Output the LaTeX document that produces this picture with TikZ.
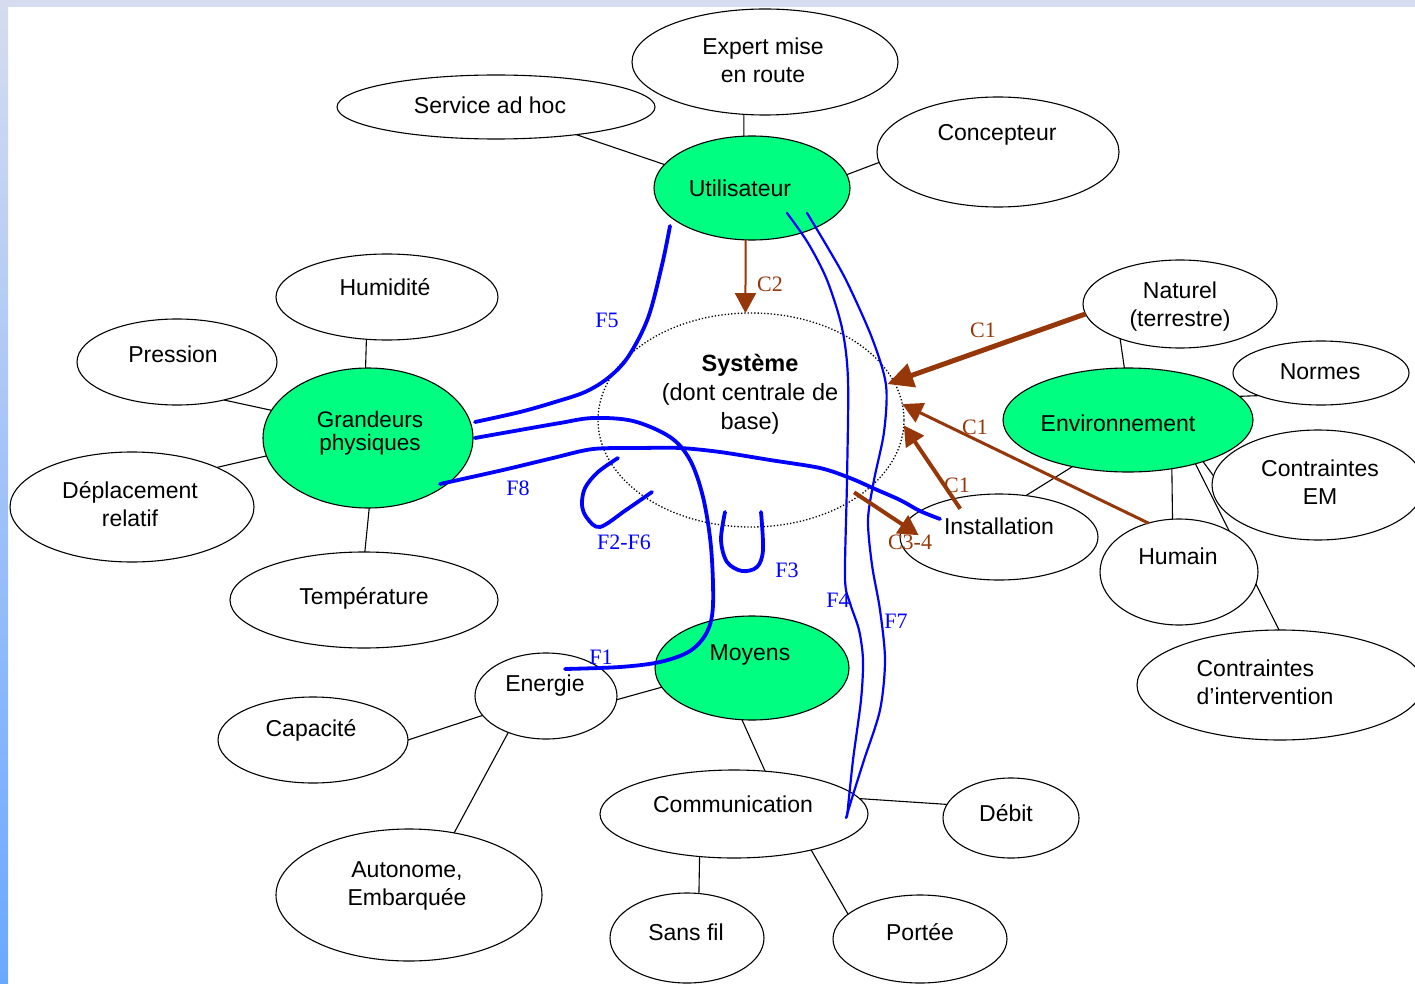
\documentclass[tikz,border=0pt]{standalone}
\usepackage{fontspec}
\setmainfont{Liberation Sans}
\newfontfamily\lblfont{Liberation Serif}
\usetikzlibrary{arrows.meta,calc,shapes.geometric}
\definecolor{keygreen}{RGB}{0,255,128}
\definecolor{cbrown}{RGB}{150,55,10}
\definecolor{fblue}{RGB}{0,0,255}
\definecolor{edgetop}{RGB}{214,220,240}
\definecolor{edgemid}{RGB}{180,205,242}
\definecolor{edgebot}{RGB}{106,168,255}
\pgfdeclarelayer{back}
\pgfdeclarelayer{lines}
\pgfdeclarelayer{front}
\pgfsetlayers{back,lines,main,front}
\begin{document}
\begin{tikzpicture}[x=1pt,y=-1pt,
  ell/.style={ellipse, draw=black, line width=1.1pt, fill=white, inner sep=0pt, outer sep=0pt},
  keynode/.style={ell, fill=keygreen},
  sysnode/.style={ellipse, draw=black, dotted, line width=1.3pt, inner sep=0pt, outer sep=0pt},
  txt/.style={align=center, inner sep=0pt, font=\fontsize{23}{28}\selectfont},
  conn/.style={draw=black, line width=1.1pt},
  carrow/.style={draw=cbrown, line width=#1, -{Triangle[length=20pt,width=21pt]}},
  fline/.style={draw=fblue, line width=3.8pt, line cap=round, line join=round},
  fthin/.style={draw=fblue, line width=2.2pt, line cap=round, line join=round},
  flabel/.style={text=fblue, inner sep=0pt, font=\lblfont\fontsize{22}{24}\selectfont},
  clabel/.style={text=cbrown, inner sep=0pt, font=\lblfont\fontsize{22}{24}\selectfont}
]
\useasboundingbox (0,0) rectangle (1415,984);
\begin{pgfonlayer}{back}
  \fill[white] (0,0) rectangle (1415,984);
  \fill[edgetop] (0,0) rectangle (1415,7);
  \shade[top color=edgetop, middle color=edgemid, bottom color=edgebot] (0,0) rectangle (8,984);
\end{pgfonlayer}

% ---- ellipses ----
\node[ell, minimum width=266pt, minimum height=106pt] (expert) at (765,62) {};
\node[ell, minimum width=318pt, minimum height=64pt] (svc) at (496,107) {};
\node[keynode, minimum width=196pt, minimum height=104pt] (util) at (752,188) {};
\node[ell, minimum width=242pt, minimum height=110pt] (conc) at (998,152) {};
\node[ell, minimum width=222pt, minimum height=86pt] (humid) at (387,297) {};
\node[ell, minimum width=200pt, minimum height=86pt] (press) at (177,362) {};
\node[keynode, minimum width=210pt, minimum height=140pt] (gp) at (368,438) {};
\node[ell, minimum width=244pt, minimum height=110pt] (depl) at (132,507) {};
\node[ell, minimum width=268pt, minimum height=96pt] (temp) at (364,600) {};
\node[sysnode, minimum width=306pt, minimum height=214pt] (sys) at (751,420) {};
\node[ell, minimum width=194pt, minimum height=88pt] (nat) at (1180,304) {};
\node[ell, minimum width=176pt, minimum height=64pt] (normes) at (1321,373) {};
\node[ell, minimum width=212pt, minimum height=110pt] (cem) at (1318,485) {};
\node[keynode, minimum width=250pt, minimum height=104pt] (env) at (1128,420) {};
\node[ell, minimum width=198pt, minimum height=86pt] (inst) at (999,537) {};
\node[ell, minimum width=286pt, minimum height=110pt] (ci) at (1280,685) {};
\node[ell, minimum width=158pt, minimum height=106pt] (hum) at (1179,572) {};
\node[keynode, minimum width=194pt, minimum height=104pt] (moy) at (752,668) {};
\node[ell, minimum width=142pt, minimum height=86pt] (ener) at (546,696) {};
\node[ell, minimum width=190pt, minimum height=86pt] (capa) at (313,740) {};
\node[ell, minimum width=268pt, minimum height=88pt] (comm) at (734,814) {};
\node[ell, minimum width=136pt, minimum height=80pt] (debit) at (1011,818) {};
\node[ell, minimum width=266pt, minimum height=132pt] (auto) at (409,895) {};
\node[ell, minimum width=154pt, minimum height=90pt] (sansfil) at (687,938) {};
\node[ell, minimum width=174pt, minimum height=88pt] (portee) at (920,939) {};

% ---- texts ----
\node[txt] at (763,60) {Expert mise\\en route};
\node[txt] at (490,105) {Service ad hoc};
\node[txt] at (740,188) {Utilisateur};
\node[txt] at (997,135) {Concepteur};
\node[txt] at (385,287) {Humidit\'e};
\node[txt] at (173,354) {Pression};
\node[txt, font=\fontsize{22.5}{22.5}\selectfont] at (370,433) {Grandeurs\\physiques};
\node[txt] at (130,504) {D\'eplacement\\relatif};
\node[txt] at (364,598) {Temp\'erature};
\node[txt, font=\fontsize{23.5}{29}\selectfont] at (750,394) {\textbf{Syst\`eme}\\(dont centrale de\\base)};
\node[txt] at (1180,307) {Naturel\\(terrestre)};
\node[txt] at (1320,372) {Normes};
\node[txt] at (1118,423) {Environnement};
\node[txt] at (1320,482) {Contraintes\\EM};
\node[txt] at (999,526) {Installation};
\node[txt] at (1178,556) {Humain};
\node[txt, align=left] at (1265,682) {Contraintes\\d’intervention};
\node[txt] at (750,655) {Moyens};
\node[txt] at (545,686) {Energie};
\node[txt] at (311,730) {Capacit\'e};
\node[txt] at (733,804) {Communication};
\node[txt] at (1006,813) {D\'ebit};
\node[txt] at (407,886) {Autonome,\\Embarqu\'ee};
\node[txt] at (686,932) {Sans fil};
\node[txt] at (920,932) {Port\'ee};

% ---- black connectors ----
\begin{pgfonlayer}{lines}
  \draw[conn] (expert.-112) -- (util.99);
  \draw[conn] (svc.-19) -- (util.165);
  \draw[conn] (util.8) -- (conc.185);
  \draw[conn] (humid.-116) -- (gp.92);
  \draw[conn] (press.-39) -- (gp.164);
  \draw[conn] (depl.25) -- (gp.190);
  \draw[conn] (temp.89) -- (gp.-89);
  \draw[conn] (nat.-150) -- (env.94);
  \draw[conn] (env.12) -- (normes.200);
  \draw[conn] (env.-29) -- (cem.175);
  \draw[conn] (env.-48) -- (hum.97);
  \draw[conn] (env.-33) -- (ci.91);
  \draw[conn] (env.220) -- (inst.57);
  \draw[conn] (ener.-3) -- (moy.192);
  \draw[conn] (capa.0) -- (ener.197);
  \draw[conn] (auto.54) -- (ener.224);
  \draw[conn] (moy.-101) -- (comm.54);
  \draw[conn] (comm.7) -- (debit.168);
  \draw[conn] (comm.-129) -- (sansfil.75);
  \draw[conn] (comm.-25) -- (portee.161);
\end{pgfonlayer}

% ---- blue flows and brown constraints ----
\begin{pgfonlayer}{front}
  % F5
  \draw[fline] plot[smooth, tension=0.55] coordinates {(670,226) (662,265) (648,318) (628,357) (608,378) (585,392) (555,402) (520,412) (475,422)};
  % F1
  \draw[fline] plot[smooth, tension=0.55] coordinates {(475,438) (520,430) (560,423) (593,418) (633,421) (670,437) (690,460) (703,497) (711,547) (713,605) (707,632) (690,651) (660,662) (620,667) (565,669)};
  % F8
  \draw[fline] plot[smooth, tension=0.5] coordinates {(440,484) (503,470) (553,458) (593,449) (640,448) (680,448) (720,452) (770,460) (820,468) (850,478) (875,489) (900,500) (920,511) (940,519)};
  % F2-F6
  \draw[fline] plot[smooth, tension=0.55] coordinates {(618,458) (598,472) (585,488) (582,505) (587,518) (600,527) (626,510) (652,492)};
  % F3
  \draw[fline] plot[smooth, tension=0.55] coordinates {(725,512) (721,540) (727,562) (742,571) (757,567) (763,550) (761,512)};
  % F4
  \draw[fthin] plot[smooth, tension=0.5] coordinates {(787,213) (808,243) (827,280) (842,328) (848,380) (847,480) (845,578) (850,603) (859,630) (863,660) (861,700) (853,760) (847,817)};
  % F7
  \draw[fthin] plot[smooth, tension=0.5] coordinates {(807,213) (828,248) (847,282) (872,338) (886,385) (884,432) (874,480) (868,520) (872,565) (880,610) (885,660) (880,710) (864,760) (852,798) (846,818)};

  \node[flabel] at (607,320) {F5};
  \node[flabel] at (518,488) {F8};
  \node[flabel] at (624,542) {F2-F6};
  \node[flabel] at (787,570) {F3};
  \node[flabel] at (838,600) {F4};
  \node[flabel] at (896,621) {F7};
  \node[flabel] at (601,657) {F1};

  \draw[carrow=2pt] (util.-97) -- (sys.93);
  \draw[carrow=5pt, -{Triangle[length=26pt,width=24pt]}, shorten >=-7pt] (nat.186) -- (sys.15);
  \draw[carrow=3pt] (hum.122) -- (sys.6);
  \draw[carrow=4pt, shorten <=-12pt] (inst.140) -- (sys.-2);
  \draw[carrow=4pt, shorten >=-18pt, shorten <=-6pt] (sys.-35) -- (inst.173);

  \node[clabel] at (770,284) {C2};
  \node[clabel] at (983,330) {C1};
  \node[clabel] at (975,427) {C1};
  \node[clabel] at (957,485) {C1};
  \node[clabel] at (910,542) {C3-4};
\end{pgfonlayer}
\end{tikzpicture}
\end{document}
